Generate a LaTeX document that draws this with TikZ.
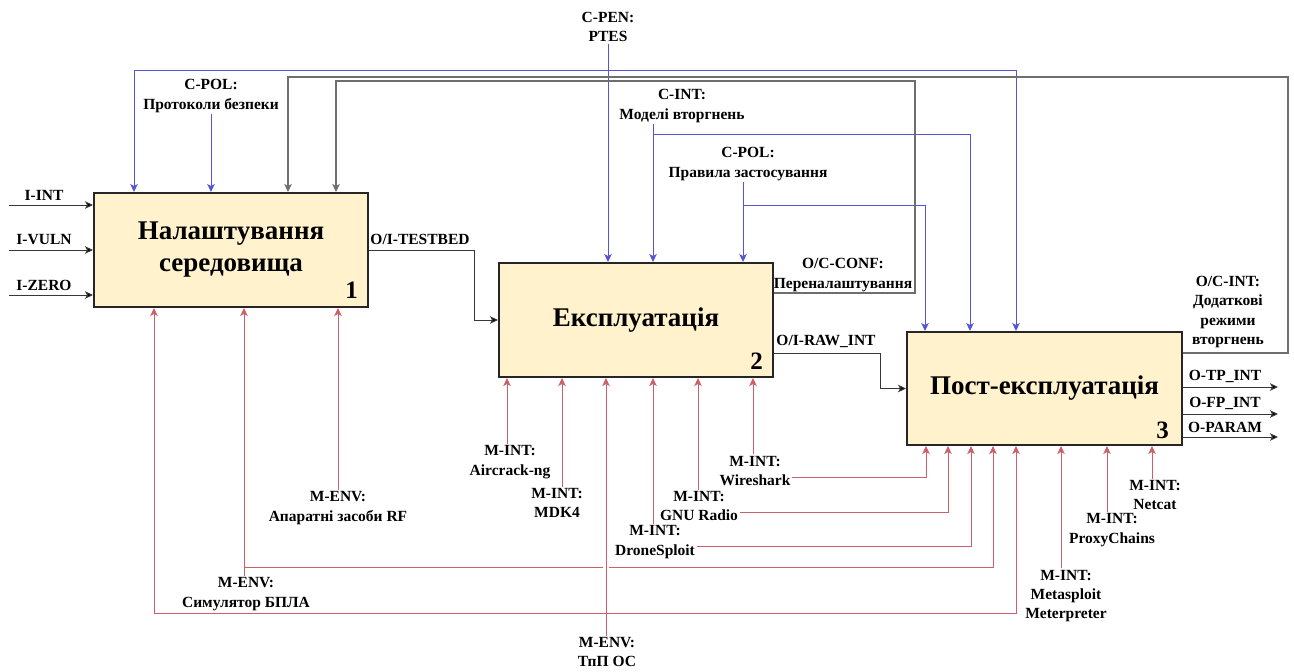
\documentclass[tikz,border=0pt]{standalone}
\usepackage{fontspec}
\setmainfont{Liberation Serif}
\usetikzlibrary{arrows.meta,calc}
\definecolor{boxfill}{RGB}{255,242,205}
\definecolor{ctrlblue}{RGB}{85,85,215}
\definecolor{mechred}{RGB}{205,95,105}
\definecolor{fbgray}{RGB}{110,110,110}
\definecolor{flowgray}{RGB}{55,55,55}
\begin{document}
\begin{tikzpicture}[x=1pt,y=-1pt,
  proc/.style={draw=black!85,line width=2pt,fill=boxfill,minimum width=274pt,minimum height=114pt,inner sep=0pt,align=center,font=\bfseries\fontsize{27}{32}\selectfont},
  lbl/.style={font=\bfseries\fontsize{15.5}{19.3}\selectfont,align=center,inner sep=1.5pt},
  num/.style={font=\bfseries\fontsize{25}{25}\selectfont,inner sep=0pt},
  ctrl/.style={draw=ctrlblue,line width=1pt,-{Stealth[length=8pt,width=7.5pt,inset=2pt,fill=ctrlblue]}},
  mech/.style={draw=mechred,line width=1pt,-{Stealth[length=8pt,width=7.5pt,inset=2pt,fill=mechred]}},
  flow/.style={draw=flowgray,line width=1pt,-{Stealth[length=8pt,width=7.5pt,inset=2pt,fill=black]}},
  fb/.style={draw=fbgray,line width=1.6pt,-{Stealth[length=8pt,width=7.5pt,inset=2pt,fill=black]}}
]
\useasboundingbox (0,0) rectangle (1294,672);

% ---------- boxes ----------
\node[proc] (b1) at (231,250) {Налаштування\\середовища};
\node[proc] (b2) at (636,320) {Експлуатація};
\node[proc,minimum width=275pt,minimum height=113pt] (b3) at (1044.5,388.5) {Пост-експлуатація};
\node[num,anchor=base east] (n1) at ([xshift=-11pt,yshift=10pt]b1.south east) {1};
\node[num,anchor=base east] (n2) at ([xshift=-11pt,yshift=9pt]b2.south east) {2};
\node[num,anchor=base east] (n3) at ([xshift=-14pt,yshift=8pt]b3.south east) {3};

% ---------- inputs ----------
\node[lbl] (iint) at (44,195) {I-INT};
\node[lbl] (ivuln) at (44,240) {I-VULN};
\node[lbl] (izero) at (44,285) {I-ZERO};
\coordinate (in1) at ([xshift=-84pt,yshift=45pt]b1.west);
\coordinate (in2) at ([xshift=-84pt]b1.west);
\coordinate (in3) at ([xshift=-84pt,yshift=-45pt]b1.west);
\draw[flow] (in1) -- (in1 -| b1.west);
\draw[flow] (in2) -- (in2 -| b1.west);
\draw[flow] (in3) -- (in3 -| b1.west);

% ---------- flows between boxes ----------
\node[lbl] (testbed) at (420,239) {O/I-TESTBED};
\coordinate (tbx) at (474,0);
\draw[flow] (b1.east) -| (tbx |- b2.west) -- (b2.west);

\node[lbl] (rawint) at (826,341) {O/I-RAW\_INT};
\coordinate (rawx) at (880,0);
\draw[flow] ([yshift=-33pt]b2.east) -| (rawx |- b3.west) -- (b3.west);

% ---------- controls ----------
\node[lbl] (cpol1) at (211,96) {C-POL:\\Протоколи безпеки};
\draw[ctrl] (cpol1) -- (cpol1 |- b1.north);

\node[lbl] (cpen) at (608,27) {C-PEN:\\PTES};
\draw[ctrl] (cpen) -- (cpen |- b2.north);
\coordinate (jpen) at (cpen |- 0,70);
\draw[ctrl] (jpen) -| ([xshift=41pt]b1.north west);
\draw[ctrl] (jpen) -| ([xshift=110pt]b3.north west);

\node[lbl] (cint) at (682,106) {C-INT:\\Моделі вторгнень};
\coordinate (cintx) at ([xshift=155pt]b2.north west);
\draw[ctrl] (cint.south -| cintx) -- (cintx);
\coordinate (jint) at (cintx |- 0,134);
\draw[ctrl] (jint) -| ([xshift=64pt]b3.north west);

\node[lbl] (cpol2) at (748,164) {C-POL:\\Правила застосування};
\coordinate (cpolx) at ([xshift=245pt]b2.north west);
\draw[ctrl] (cpol2.south -| cpolx) -- (cpolx);
\coordinate (jpol) at (cpolx |- 0,205);
\draw[ctrl] (jpol) -| ([xshift=19pt]b3.north west);

% ---------- feedback ----------
\node[lbl] (occonf) at (843,275) {O/C-CONF:\\Переналаштування};
\coordinate (fbconf) at (915,81);
\draw[fb] ([yshift=27pt]b2.east) -| (fbconf) -| ([xshift=243pt]b1.north west);

\node[lbl] (ocint) at (1228,312) {O/C-INT:\\Додаткові\\режими\\вторгнень};
\coordinate (fbint) at (1288,77);
\draw[fb] ([yshift=35.5pt]b3.east) -| (fbint) -| ([xshift=195pt]b1.north west);

% ---------- outputs ----------
\node[lbl] (otp) at (1225,376) {O-TP\_INT};
\node[lbl] (ofp) at (1225,403) {O-FP\_INT};
\node[lbl] (opar) at (1225,427) {O-PARAM};
\coordinate (o1) at ([xshift=95pt,yshift=1.5pt]b3.east);
\coordinate (o2) at ([xshift=95pt,yshift=-25.5pt]b3.east);
\coordinate (o3) at ([xshift=95pt,yshift=-48.5pt]b3.east);
\draw[flow] (b3.east |- o1) -- (o1);
\draw[flow] (b3.east |- o2) -- (o2);
\draw[flow] (b3.east |- o3) -- (o3);

% ---------- mechanisms: box 1 ----------
\node[lbl] (menv1) at (338,508) {M-ENV:\\Апаратні засоби RF};
\draw[mech] (menv1) -- (menv1 |- b1.south);

\node[lbl] (menv2) at (246,594) {M-ENV:\\Симулятор БПЛА};
\coordinate (m2x) at ([xshift=151pt]b1.south west);
\draw[mech] (menv2.north -| m2x) -- (m2x);
\coordinate (jsim) at (m2x |- 0,567);
\draw[mech] (jsim) -| ([xshift=87pt]b3.south west);

\node[lbl] (menv3) at (607,652) {M-ENV:\\ТпП ОС};
\coordinate (m3x) at ([xshift=108pt]b2.south west);
\draw[white,line width=6pt] (m3x |- 0,563) -- (m3x |- 0,571);
\draw[mech] (menv3.north -| m3x) -- (m3x);
\coordinate (jtpp) at (m3x |- 0,613);
\draw[mech] (jtpp) -| ([xshift=61pt]b1.south west);
\draw[mech] (jtpp) -| ([xshift=110pt]b3.south west);

% ---------- mechanisms: box 2 ----------
\node[lbl] (air) at (510,462) {M-INT:\\Aircrack-ng};
\coordinate (airx) at ([xshift=9pt]b2.south west);
\draw[mech] (air.north -| airx) -- (airx);

\node[lbl] (mdk) at (557,503) {M-INT:\\MDK4};
\coordinate (mdkx) at ([xshift=64pt]b2.south west);
\draw[mech] (mdk.north -| mdkx) -- (mdkx);

\node[lbl] (drone) at (655,542) {M-INT:\\DroneSploit};
\coordinate (dronex) at ([xshift=155pt]b2.south west);
\draw[mech] (drone.north -| dronex) -- (dronex);
\draw[mech] ([yshift=-4pt]drone.east) -| ([xshift=65pt]b3.south west);

\node[lbl] (gnu) at (699,506) {M-INT:\\GNU Radio};
\coordinate (gnux) at ([xshift=200pt]b2.south west);
\draw[mech] (gnu.north -| gnux) -- (gnux);
\draw[mech] ([yshift=-6pt]gnu.east) -| ([xshift=42pt]b3.south west);

\node[lbl] (wire) at (755,471) {M-INT:\\Wireshark};
\coordinate (wirex) at ([xshift=255pt]b2.south west);
\draw[mech] (wire.north -| wirex) -- (wirex);
\draw[mech] ([yshift=-6pt]wire.east) -| ([xshift=20pt]b3.south west);

% ---------- mechanisms: box 3 ----------
\node[lbl] (meta) at (1066,596) {M-INT:\\Metasploit\\Meterpreter};
\coordinate (metax) at ([xshift=155pt]b3.south west);
\draw[mech] (meta.north -| metax) -- (metax);

\node[lbl] (proxy) at (1112,530) {M-INT:\\ProxyChains};
\coordinate (proxyx) at ([xshift=201pt]b3.south west);
\draw[mech] (proxy.north -| proxyx) -- (proxyx);

\node[lbl] (netcat) at (1155,495) {M-INT:\\Netcat};
\coordinate (netcatx) at ([xshift=246pt]b3.south west);
\draw[mech] (netcat.north -| netcatx) -- (netcatx);
\end{tikzpicture}
\end{document}
